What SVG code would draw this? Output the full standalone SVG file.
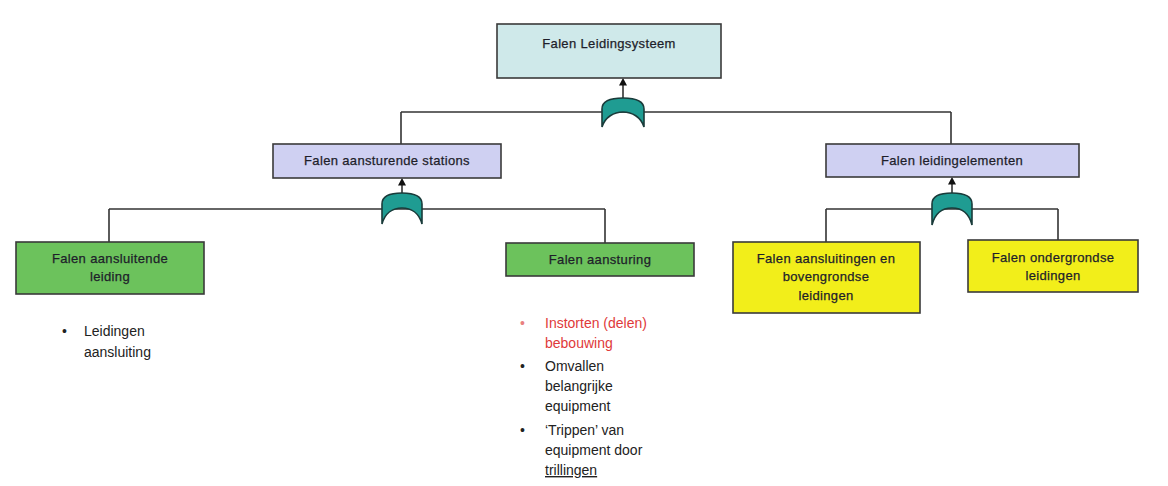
<svg xmlns="http://www.w3.org/2000/svg" width="1168" height="486" viewBox="0 0 1168 486">
  <style>
    .box { stroke: #3a3a3a; stroke-width: 1.6; }
    .top { fill: #cfe9ea; }
    .mid { fill: #cfd0f2; }
    .green { fill: #6cc25c; }
    .yellow { fill: #f2ee1a; }
    .lbl { font-family: "Liberation Sans", Arial, sans-serif; font-size: 13px; letter-spacing: 0.35px; fill: #1e1e2a; stroke: #1e1e2a; stroke-width: 0.25; text-anchor: middle; }
    .note { font-family: "Liberation Sans", Arial, sans-serif; font-size: 14px; fill: #222; }
    .red { fill: #e0393a; }
    .wire { stroke: #333; stroke-width: 1.6; fill: none; }
    .gate { fill: #1f9c92; stroke: #1a3b3a; stroke-width: 1.6; }
  </style>
  <defs>
    <marker id="arrow" markerWidth="8" markerHeight="8" refX="4" refY="4" orient="auto" markerUnits="userSpaceOnUse">
      <path d="M0,7.5 L4,0 L8,7.5 Z" fill="#111" transform="rotate(90 4 4)"/>
    </marker>
  </defs>
  <rect width="1168" height="486" fill="#ffffff"/>

  <!-- connectors -->
  <g id="connectors">
    <line class="wire" x1="401" y1="112" x2="951" y2="112"/>
    <line class="wire" x1="401" y1="112" x2="401" y2="144"/>
    <line class="wire" x1="951" y1="112" x2="951" y2="144"/>
    <line class="wire" x1="623" y1="99" x2="623" y2="82" marker-end="url(#arrow)"/>

    <line class="wire" x1="109" y1="209" x2="605" y2="209"/>
    <line class="wire" x1="109" y1="209" x2="109" y2="242"/>
    <line class="wire" x1="605" y1="209" x2="605" y2="243"/>
    <line class="wire" x1="402" y1="194" x2="402" y2="182" marker-end="url(#arrow)"/>

    <line class="wire" x1="826" y1="209" x2="1058" y2="209"/>
    <line class="wire" x1="826" y1="209" x2="826" y2="242"/>
    <line class="wire" x1="1058" y1="209" x2="1058" y2="240"/>
    <line class="wire" x1="952" y1="194" x2="952" y2="181" marker-end="url(#arrow)"/>
  </g>

  <!-- OR gates -->
  <g id="gate-top" transform="translate(623 98)">
    <path class="gate" d="M-21,11 Q-21,0 0,0 Q21,0 21,11 L21,29 C18,19 9,14 0,14 C-9,14 -18,19 -21,29 Z"/>
  </g>
  <g id="gate-stations" transform="translate(402 193)">
    <path class="gate" d="M-20,11 Q-20,0 0,0 Q20,0 20,11 L20,31 C17,20 9,15 0,15 C-9,15 -17,20 -20,31 Z"/>
  </g>
  <g id="gate-elements" transform="translate(952 193)">
    <path class="gate" d="M-20,11 Q-20,0 0,0 Q20,0 20,11 L20,32 C17,20 9,15 0,15 C-9,15 -17,20 -20,32 Z"/>
  </g>

  <!-- nodes -->
  <g id="node-leidingsysteem">
    <rect class="box top" x="497" y="24" width="224" height="54"/>
    <text class="lbl" x="609" y="48">Falen Leidingsysteem</text>
  </g>
  <g id="node-stations">
    <rect class="box mid" x="273" y="144" width="228" height="34"/>
    <text class="lbl" x="387" y="165">Falen aansturende stations</text>
  </g>
  <g id="node-leidingelementen">
    <rect class="box mid" x="826" y="144" width="253" height="33"/>
    <text class="lbl" x="952" y="165">Falen leidingelementen</text>
  </g>
  <g id="node-aansluitende-leiding">
    <rect class="box green" x="16" y="242" width="188" height="52"/>
    <text class="lbl" x="110" y="263">Falen aansluitende</text>
    <text class="lbl" x="110" y="281">leiding</text>
  </g>
  <g id="node-aansturing">
    <rect class="box green" x="506" y="243" width="188" height="33"/>
    <text class="lbl" x="600" y="264">Falen aansturing</text>
  </g>
  <g id="node-bovengronds">
    <rect class="box yellow" x="733" y="242" width="187" height="71"/>
    <text class="lbl" x="826" y="263">Falen aansluitingen en</text>
    <text class="lbl" x="826" y="281">bovengrondse</text>
    <text class="lbl" x="826" y="300">leidingen</text>
  </g>
  <g id="node-ondergronds">
    <rect class="box yellow" x="968" y="240" width="170" height="52"/>
    <text class="lbl" x="1053" y="262">Falen ondergrondse</text>
    <text class="lbl" x="1053" y="280">leidingen</text>
  </g>

  <!-- cause lists -->
  <g id="notes-aansluitende-leiding" class="note">
    <text x="62" y="336">•</text>
    <text x="84" y="336">Leidingen</text>
    <text x="84" y="357">aansluiting</text>
  </g>
  <g id="notes-aansturing" class="note">
    <text x="520" y="328" fill="#e98080">•</text>
    <text x="545" y="328" class="red">Instorten (delen)</text>
    <text x="545" y="348" class="red">bebouwing</text>
    <text x="520" y="371">•</text>
    <text x="545" y="371">Omvallen</text>
    <text x="545" y="391">belangrijke</text>
    <text x="545" y="411">equipment</text>
    <text x="520" y="435">•</text>
    <text x="545" y="435">‘Trippen’ van</text>
    <text x="545" y="455">equipment door</text>
    <text x="545" y="475" text-decoration="underline">trillingen</text>
  </g>
</svg>
